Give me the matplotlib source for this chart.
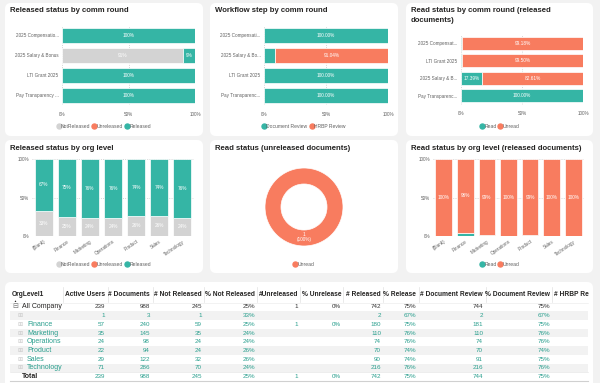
import matplotlib.pyplot as plt
from matplotlib.patches import FancyBboxPatch, Rectangle
from matplotlib.lines import Line2D

plt.rcParams['font.family'] = ['Liberation Sans', 'DejaVu Sans']

W, H = 600, 383
TEAL = '#35b5a5'
CORAL = '#f87c5f'
GREY = '#d3d3d3'
TXT = '#606060'
TEAL_TXT = '#2a9f8e'

# released status by comm round
rounds_rel = ['2025 Compensatio...', '2025 Salary & Bonus', 'LTI Grant 2025', 'Pay Transparency ...']
rel_not = [0, 91, 0, 0]
rel_unrel = [0, 0, 0, 0]
rel_yes = [100, 9, 100, 100]

# workflow step by comm round
rounds_wf = ['2025 Compensati...', '2025 Salary & Bo...', 'LTI Grant 2025', 'Pay Transparenc...']
wf_doc = [100, 8.96, 100, 100]
wf_hrbp = [0, 91.04, 0, 0]

# read status by comm round (released)
rounds_read = ['2025 Compensat...', 'LTI Grant 2025', '2025 Salary & B...', 'Pay Transparenc...']
rd_read = [0.82, 0.50, 17.39, 100]
rd_unread = [99.18, 99.50, 82.61, 0]

# org level charts
orgs = ['(Blank)', 'Finance', 'Marketing', 'Operations', 'Product', 'Sales', 'Technology']
org_not = [33, 25, 24, 24, 26, 26, 24]
org_rel = [67, 75, 76, 76, 74, 74, 76]
org_read = [0, 4, 1, 0, 1, 0, 0]
org_unread = [100, 96, 99, 100, 99, 100, 100]

# donut
donut_labels = ['Unread']
donut_vals = [1]

# table
tbl_headers = ['Active Users', '# Documents', '# Not Released', '% Not Released', '#Unreleased',
               '% Unrelease', '# Released', '% Release', '# Document Review', '% Document Review']
tbl_rows = ['All Company', '', 'Finance', 'Marketing', 'Operations', 'Product', 'Sales', 'Technology', 'Total']
tbl_vals = [
    ['239', '988', '245', '25%', '1', '0%', '742', '75%', '744', '75%'],
    ['1', '3', '1', '33%', '', '', '2', '67%', '2', '67%'],
    ['57', '240', '59', '25%', '1', '0%', '180', '75%', '181', '75%'],
    ['35', '145', '35', '24%', '', '', '110', '76%', '110', '76%'],
    ['24', '98', '24', '24%', '', '', '74', '76%', '74', '76%'],
    ['22', '94', '24', '26%', '', '', '70', '74%', '70', '74%'],
    ['29', '122', '32', '26%', '', '', '90', '74%', '91', '75%'],
    ['71', '286', '70', '24%', '', '', '216', '76%', '216', '76%'],
    ['239', '988', '245', '25%', '1', '0%', '742', '75%', '744', '75%'],
]


def rect(x0, y0, x1, y1):
    return [x0 / W, 1 - y1 / H, (x1 - x0) / W, (y1 - y0) / H]


fig = plt.figure(figsize=(6, 3.83), dpi=100)
fig.patch.set_facecolor('#f2f2f2')
bg = fig.add_axes([0, 0, 1, 1], zorder=0)
bg.set_xlim(0, W)
bg.set_ylim(H, 0)
bg.axis('off')

cards = [(5, 3, 203, 136), (210, 3, 398, 136), (406, 3, 593, 136),
         (5, 140, 203, 273), (210, 140, 398, 273), (406, 140, 593, 273),
         (5, 282, 593, 390)]
for x0, y0, x1, y1 in cards:
    bg.add_patch(FancyBboxPatch((x0, y0), x1 - x0, y1 - y0, boxstyle='round,pad=0,rounding_size=6',
                                facecolor='white', edgecolor='none'))

titles = [(10, 10, 'Released status by comm round'), (215, 10, 'Workflow step by comm round'),
          (411, 10, 'Read status by comm round (released'), (411, 20, 'documents)'),
          (10, 149, 'Released status by org level'), (215, 149, 'Read status (unreleased documents)'),
          (411, 149, 'Read status by org level (released documents)')]
for x, y, t in titles:
    bg.text(x, y, t, fontsize=5.6, fontweight='bold', color='#252423', va='center', ha='left')


def legend(cx, cy, items):
    handles = [Line2D([], [], marker='o', linestyle='none', markersize=3.6, color=c, label=l)
               for l, c in items]
    fig.legend(handles=handles, loc='center', bbox_to_anchor=(cx / W, 1 - cy / H), ncol=len(items),
               frameon=False, fontsize=3.6, handlelength=0.6, handletextpad=0.15, columnspacing=0.5,
               labelcolor=TXT, borderpad=0)


def hbar(box, cats, series, fmt, minw):
    ax = fig.add_axes(rect(*box))
    ax.set_facecolor('none')
    y = list(range(len(cats)))
    left = [0] * len(cats)
    for vals, color in series:
        bars = ax.barh(y, vals, left=left, height=0.76, color=color, edgecolor='white', linewidth=0.5)
        for b, v, l in zip(bars, vals, left):
            if v >= minw:
                ax.text(l + v / 2, b.get_y() + b.get_height() / 2, fmt.format(v), color='white',
                        fontsize=3.4, ha='center', va='center')
        left = [a + b for a, b in zip(left, vals)]
    ax.set_yticks(y)
    ax.set_yticklabels(cats)
    ax.set_ylim(len(cats) - 0.5, -0.5)
    ax.set_xlim(0, 100)
    ax.set_xticks([0, 50, 100])
    ax.set_xticklabels(['0%', '50%', '100%'])
    ax.tick_params(length=0, labelsize=3.3, colors=TXT, pad=2.5)
    ax.xaxis.set_tick_params(pad=5)
    ax.grid(axis='x', linestyle=':', color='#c8c8c8', linewidth=0.6)
    ax.set_axisbelow(True)
    for s in ax.spines.values():
        s.set_visible(False)
    return ax


hbar((62, 25.5, 195, 105), rounds_rel, [(rel_not, GREY), (rel_unrel, CORAL), (rel_yes, TEAL)], '{:.0f}%', 5)
legend(104, 126, [('NotReleased', GREY), ('Unreleased', CORAL), ('Released', TEAL)])

hbar((264, 25.5, 388, 105), rounds_wf, [(wf_doc, TEAL), (wf_hrbp, CORAL)], '{:.2f}%', 12)
legend(304, 126, [('Document Review', TEAL), ('HRBP Review', CORAL)])

hbar((461, 34.5, 583, 104.5), rounds_read, [(rd_read, TEAL), (rd_unread, CORAL)], '{:.2f}%', 12)
legend(500, 126, [('Read', TEAL), ('Unread', CORAL)])


def vbar(box, series, labelled):
    ax = fig.add_axes(rect(*box))
    ax.set_facecolor('none')
    x = list(range(len(orgs)))
    bottom = [0] * len(orgs)
    for i, (vals, color) in enumerate(series):
        bars = ax.bar(x, vals, bottom=bottom, width=0.78, color=color, edgecolor='white', linewidth=0.5)
        if i in labelled:
            for b, v, bt in zip(bars, vals, bottom):
                ax.text(b.get_x() + b.get_width() / 2, bt + v / 2, '{:.0f}%'.format(v), color='white',
                        fontsize=3.4, ha='center', va='center')
        bottom = [a + b for a, b in zip(bottom, vals)]
    ax.set_xlim(-0.5, len(orgs) - 0.5)
    ax.set_ylim(0, 100)
    ax.set_yticks([0, 50, 100])
    ax.set_yticklabels(['0%', '50%', '100%'])
    ax.set_xticks(x)
    ax.set_xticklabels(orgs, rotation=35, ha='right', rotation_mode='anchor')
    ax.tick_params(length=0, labelsize=3.3, colors=TXT, pad=2)
    ax.grid(axis='y', linestyle=':', color='#c8c8c8', linewidth=0.6)
    ax.set_axisbelow(True)
    for s in ax.spines.values():
        s.set_visible(False)
    return ax


vbar((32, 159, 194, 236), [(org_not, GREY), (org_rel, TEAL)], [0, 1])
legend(104, 264, [('NotReleased', GREY), ('Unreleased', CORAL), ('Released', TEAL)])

vbar((433, 159, 584, 236), [(org_read, TEAL), (org_unread, CORAL)], [1])
legend(500, 264, [('Read', TEAL), ('Unread', CORAL)])

# donut
axd = fig.add_axes(rect(265, 168, 343, 246))
axd.pie(donut_vals, colors=[CORAL], radius=1, startangle=90, counterclock=False,
        wedgeprops=dict(width=0.41, edgecolor='white', linewidth=0.5))
axd.set_xlim(-1, 1)
axd.set_ylim(-1, 1)
axd.set_aspect('auto')
axd.text(0, -0.77, '{}\n({:.0f}%)'.format(donut_vals[0], 100), color='white', fontsize=3.4,
         ha='center', va='center', linespacing=1.1)
legend(304, 264, [(donut_labels[0], CORAL)])

# table
col_right = [105, 150, 202, 255, 298, 341, 381, 416, 483, 550]
col_sep = [63, 108, 153, 204, 257, 300, 343, 383, 419, 486, 552]
row_y = [307, 315.7, 324.4, 333.1, 341.8, 350.5, 359.2, 367.9, 376.6]
hy = 295

bg.text(12, hy, 'OrgLevel1', fontsize=4.8, fontweight='bold', color='#252423', va='center')
bg.text(13, hy + 6.5, '\u25b2', fontsize=2.2, color='#252423', va='center')
for r, h in zip(col_right, tbl_headers):
    bg.text(r, hy, h, fontsize=4.8, fontweight='bold', color='#252423', va='center', ha='right')
bg.text(554, hy, '# HRBP Re', fontsize=4.8, fontweight='bold', color='#252423', va='center', ha='left')
for s in col_sep:
    bg.plot([s, s], [287, 302], color='#e1e1e1', linewidth=0.5)
bg.plot([10, 588], [302.5, 302.5], color='#e8e8e8', linewidth=0.4)

for i, (name, vals, y) in enumerate(zip(tbl_rows, tbl_vals, row_y)):
    if i % 2 == 1 and i < 8:
        bg.add_patch(Rectangle((10, y - 4.3), 578, 8.6, facecolor='#f2f2f2', edgecolor='none'))
    if i == 0:
        bg.text(12, y, '\u229f', fontsize=5, color='#777777', va='center')
        bg.text(22, y, name, fontsize=5, color='#252423', va='center')
        vc = '#333333'
    elif i == 8:
        bg.text(22, y, name, fontsize=5, color='#252423', va='center', fontweight='bold')
        vc = TEAL_TXT
    else:
        bg.text(17.5, y, '\u229e', fontsize=4.5, color='#c8c8c8', va='center')
        bg.text(27, y, name, fontsize=5, color=TEAL_TXT, va='center')
        vc = TEAL_TXT
    for r, v in zip(col_right, vals):
        bg.text(r, y, v, fontsize=4.5, color=vc, va='center', ha='right')

bg.plot([10, 588], [372.3, 372.3], color='#e0e0e0', linewidth=0.4)
bg.plot([10, 588], [381, 381], color='#d0d0d0', linewidth=0.8)

fig.savefig('out.png', dpi=100)
